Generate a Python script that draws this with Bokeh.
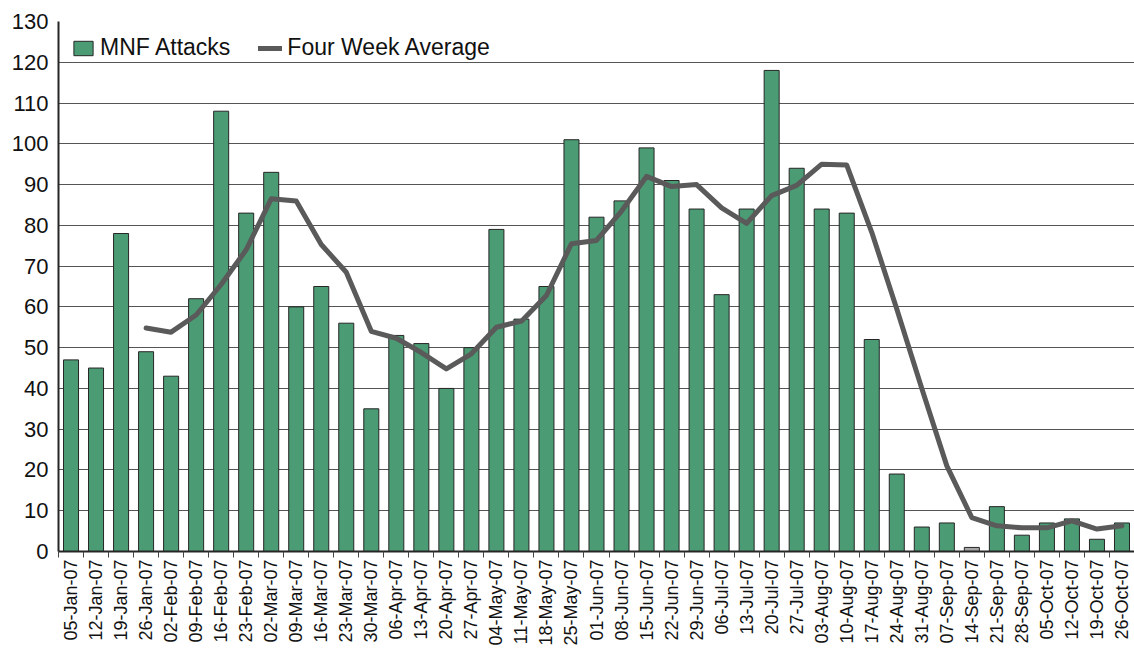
from bokeh.plotting import figure
from bokeh.models import FixedTicker, ColumnDataSource, Legend, LegendItem
from bokeh.embed import file_html
from bokeh.resources import INLINE
import math

weeks = ["05-Jan-07", "12-Jan-07", "19-Jan-07", "26-Jan-07", "02-Feb-07", "09-Feb-07",
         "16-Feb-07", "23-Feb-07", "02-Mar-07", "09-Mar-07", "16-Mar-07", "23-Mar-07",
         "30-Mar-07", "06-Apr-07", "13-Apr-07", "20-Apr-07", "27-Apr-07", "04-May-07",
         "11-May-07", "18-May-07", "25-May-07", "01-Jun-07", "08-Jun-07", "15-Jun-07",
         "22-Jun-07", "29-Jun-07", "06-Jul-07", "13-Jul-07", "20-Jul-07", "27-Jul-07",
         "03-Aug-07", "10-Aug-07", "17-Aug-07", "24-Aug-07", "31-Aug-07", "07-Sep-07",
         "14-Sep-07", "21-Sep-07", "28-Sep-07", "05-Oct-07", "12-Oct-07", "19-Oct-07",
         "26-Oct-07"]

mnf_attacks = [47, 45, 78, 49, 43, 62, 108, 83, 93, 60, 65, 56, 35, 53, 51, 40, 50, 79,
               57, 65, 101, 82, 86, 99, 91, 84, 63, 84, 118, 94, 84, 83, 52, 19, 6, 7,
               1, 11, 4, 7, 8, 3, 7]

avg_weeks = weeks[3:]
four_week_avg = [54.8, 53.8, 58.0, 65.5, 74.0, 86.5, 86.0, 75.3, 68.5, 54.0, 52.3, 48.8,
                 44.8, 48.5, 55.0, 56.5, 62.8, 75.5, 76.3, 83.5, 92.0, 89.5, 90.0, 84.3,
                 80.5, 87.3, 89.8, 95.0, 94.8, 78.3, 59.5, 40.0, 21.0, 8.3, 6.3, 5.8,
                 5.8, 7.5, 5.5, 6.3]

partial_weeks = ["14-Sep-07"]

y_ticks = list(range(0, 131, 10))

GREEN = "#4B9B74"
GRAY_BAR = "#A6A6A6"
LINE = "#5A5A5A"
FONT = "Liberation Sans"

idx = list(range(len(weeks)))
colors = [GRAY_BAR if w in partial_weeks else GREEN for w in weeks]
bar_src = ColumnDataSource(dict(x=idx, top=mnf_attacks, color=colors))
line_src = ColumnDataSource(dict(x=[weeks.index(w) for w in avg_weeks], y=four_week_avg))

p = figure(width=1134, height=648, x_range=(-0.5, len(weeks) - 0.5), y_range=(0, 130),
           output_backend="svg", toolbar_location=None,
           min_border_left=58, min_border_right=0, min_border_top=21, min_border_bottom=95)
p.outline_line_color = None
p.background_fill_color = "white"

bars = p.vbar(x="x", top="top", width=0.6, source=bar_src, fill_color="color",
              line_color="#262626", line_width=1)
ln = p.line(x="x", y="y", source=line_src, line_color=LINE, line_width=5,
            line_join="round", line_cap="round")

# axes
p.xaxis.ticker = FixedTicker(ticks=idx, minor_ticks=[i - 0.5 for i in range(len(weeks) + 1)])
p.xaxis.major_label_overrides = {i: w for i, w in enumerate(weeks)}
p.xaxis.major_label_orientation = math.pi / 2
p.xaxis.major_tick_out = 0
p.xaxis.major_tick_in = 0
p.xaxis.minor_tick_out = 6
p.xaxis.minor_tick_in = 0
p.xaxis.minor_tick_line_color = "#444444"
p.xaxis.axis_line_color = "#262626"
p.xaxis.axis_line_width = 2
p.xaxis.major_label_standoff = 2
p.xaxis.axis_label_standoff = 0
p.xaxis.major_label_text_font = FONT
p.xaxis.major_label_text_font_size = "18px"
p.xaxis.major_label_text_color = "#111111"

p.yaxis.ticker = FixedTicker(ticks=y_ticks)
p.yaxis.major_tick_out = 0
p.yaxis.major_tick_in = 0
p.yaxis.minor_tick_line_color = None
p.yaxis.axis_line_color = "#262626"
p.yaxis.axis_line_width = 2
p.yaxis.major_label_standoff = 10
p.yaxis.major_label_text_font = FONT
p.yaxis.major_label_text_font_size = "22px"
p.yaxis.major_label_text_color = "#111111"

p.xgrid.grid_line_color = None
p.ygrid.ticker = FixedTicker(ticks=y_ticks)
p.ygrid.grid_line_color = "#555555"
p.ygrid.grid_line_width = 1

legend = Legend(items=[LegendItem(label="MNF Attacks", renderers=[bars], index=0),
                       LegendItem(label="Four Week Average", renderers=[ln])],
                location="top_left", orientation="horizontal",
                label_text_font=FONT, label_text_font_size="23px",
                label_text_color="#111111",
                glyph_width=24, glyph_height=18, label_standoff=5, spacing=28,
                padding=3, margin=13, border_line_color=None,
                background_fill_alpha=0)
p.add_layout(legend)

open("out.html", "w").write(file_html(p, INLINE))
